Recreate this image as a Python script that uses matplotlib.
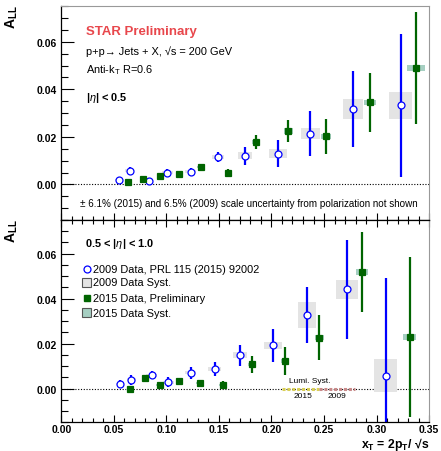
import matplotlib
matplotlib.use("Agg")
import matplotlib.pyplot as plt
from matplotlib.patches import Rectangle
from matplotlib.ticker import MultipleLocator
import numpy as np

plt.rcParams['font.family'] = ['Liberation Sans', 'DejaVu Sans']
plt.rcParams['mathtext.fontset'] = 'custom'
plt.rcParams['mathtext.rm'] = 'Liberation Sans'
plt.rcParams['mathtext.it'] = 'Liberation Sans:italic'
plt.rcParams['mathtext.bf'] = 'Liberation Sans:bold'

# -------------------------
# data: |eta| < 0.5
# -------------------------
x09_top = [0.055, 0.065, 0.083, 0.101, 0.123, 0.149, 0.175, 0.206, 0.237, 0.278, 0.323]
a09_top = [0.0018, 0.0057, 0.0015, 0.0050, 0.0053, 0.0116, 0.0120, 0.0129, 0.0213, 0.0319, 0.0333]
e09_top = [0.0012, 0.0015, 0.0012, 0.0013, 0.0018, 0.0020, 0.0037, 0.0057, 0.0094, 0.0160, 0.0300]
s09_top = [0.0005, 0.0006, 0.0005, 0.0006, 0.0007, 0.0009, 0.0015, 0.0018, 0.0023, 0.0042, 0.0056]
w09_top = [0.004, 0.004, 0.0045, 0.005, 0.0055, 0.006, 0.0067, 0.0086, 0.009, 0.0095, 0.011]

x15_top = [0.0636, 0.078, 0.094, 0.112, 0.133, 0.159, 0.185, 0.216, 0.252, 0.2935, 0.3376]
a15_top = [0.0008, 0.0024, 0.0035, 0.0042, 0.0074, 0.0050, 0.0180, 0.0224, 0.0202, 0.0345, 0.0490]
e15_top = [0.0008, 0.0008, 0.0009, 0.0010, 0.0013, 0.0015, 0.0030, 0.0045, 0.0074, 0.0125, 0.0234]
s15_top = [0.0004, 0.0004, 0.0004, 0.0005, 0.0005, 0.0006, 0.0008, 0.0013, 0.0009, 0.0012, 0.0014]
w15_top = [0.003, 0.003, 0.003, 0.003, 0.0035, 0.0035, 0.004, 0.0041, 0.0048, 0.0056, 0.0086]

# -------------------------
# data: 0.5 < |eta| < 1.0
# -------------------------
x09_bot = [0.056, 0.0668, 0.0859, 0.102, 0.123, 0.146, 0.1697, 0.2017, 0.2338, 0.272, 0.3087]
a09_bot = [0.0019, 0.0040, 0.0059, 0.0028, 0.0070, 0.0087, 0.0148, 0.0193, 0.0327, 0.0441, 0.0058]
e09_bot = [0.0018, 0.0022, 0.0018, 0.0022, 0.0026, 0.0033, 0.0048, 0.0074, 0.0124, 0.0222, 0.0434]
s09_bot = [0.0004, 0.0005, 0.0006, 0.0006, 0.0006, 0.0008, 0.0013, 0.0016, 0.0058, 0.0044, 0.0073]
w09_bot = [0.004, 0.0045, 0.005, 0.005, 0.0055, 0.006, 0.0067, 0.0086, 0.009, 0.0105, 0.011]

x15_bot = [0.065, 0.0795, 0.0935, 0.112, 0.132, 0.154, 0.1817, 0.2131, 0.2455, 0.2859, 0.3316]
a15_bot = [-0.0004, 0.0049, 0.0015, 0.0034, 0.0024, 0.0015, 0.0108, 0.0123, 0.0227, 0.0519, 0.0231]
e15_bot = [0.0015, 0.0012, 0.0012, 0.0013, 0.0016, 0.0018, 0.0039, 0.0061, 0.0099, 0.0178, 0.0356]
s15_bot = [0.0004, 0.0004, 0.0004, 0.0004, 0.0005, 0.0005, 0.0008, 0.0009, 0.0011, 0.0012, 0.0013]
w15_bot = [0.003, 0.003, 0.003, 0.003, 0.0035, 0.0035, 0.004, 0.004, 0.0043, 0.0057, 0.0062]

lumi_2015 = (0.2097, 0.245)
lumi_2009 = (0.245, 0.2795)

BLUE = '#0000ff'
GREEN = '#006400'
GRAY_BOX = '#e4e4e4'
TEAL_BOX = '#a6cfc2'


def draw_set(ax, x, a, e, s, w, color, box_color, marker, mfc, ms):
    for xi, ai, si, wi in zip(x, a, s, w):
        ax.add_patch(Rectangle((xi - wi, ai - si), 2 * wi, 2 * si,
                               facecolor=box_color, edgecolor='none', zorder=1))
    ax.errorbar(x, a, yerr=e, fmt='none', ecolor=color, elinewidth=1.6,
                capsize=0, zorder=2)
    ax.plot(x, a, linestyle='none', marker=marker, ms=ms, mfc=mfc,
            mec=color, mew=0.9, zorder=3)


def style_axis(ax, bottom_labels):
    ax.set_xlim(0, 0.35)
    ax.set_ylim(-0.015, 0.075)
    ax.xaxis.set_major_locator(MultipleLocator(0.05))
    ax.xaxis.set_minor_locator(MultipleLocator(0.01))
    ax.yaxis.set_major_locator(MultipleLocator(0.02))
    ax.yaxis.set_minor_locator(MultipleLocator(0.005))
    ax.tick_params(axis='y', which='major', direction='in', length=9, width=0.8, right=False)
    ax.tick_params(axis='y', which='minor', direction='in', length=5, width=0.8, right=False)
    ax.tick_params(axis='x', which='major', direction='in', length=5, width=0.8, pad=1.5)
    ax.tick_params(axis='x', which='minor', direction='in', length=3, width=0.8)
    ax.tick_params(labelsize=7.5)
    ax.set_yticks([0.0, 0.02, 0.04, 0.06])
    ax.set_yticklabels(['0.00', '0.02', '0.04', '0.06'], fontweight='bold')
    if bottom_labels:
        ax.set_xticks(np.arange(0, 0.351, 0.05))
        ax.set_xticklabels(['%.2f' % v for v in np.arange(0, 0.351, 0.05)], fontweight='bold')
    else:
        ax.set_xticklabels([])
    ax.spines['right'].set_color('#999999')
    ax.spines['left'].set_linewidth(0.9)
    ax.spines['bottom'].set_linewidth(0.9)
    ax.axhline(0, color='black', linestyle=(0, (1, 1.5)), linewidth=0.8, zorder=0.5)


fig = plt.figure(figsize=(4.41, 4.52), dpi=100)
ax1 = fig.add_axes([0.139, 0.511, 0.834, 0.473])
ax2 = fig.add_axes([0.139, 0.0635, 0.834, 0.4476])

# top panel
draw_set(ax1, x09_top, a09_top, e09_top, s09_top, w09_top, BLUE, GRAY_BOX, 'o', 'white', 5)
draw_set(ax1, x15_top, a15_top, e15_top, s15_top, w15_top, GREEN, TEAL_BOX, 's', GREEN, 4.5)
style_axis(ax1, False)
ax1.spines['top'].set_color('#999999')
ax1.tick_params(axis='x', which='both', top=False, bottom=True)

ax1.text(0.067, 0.883, 'STAR Preliminary', transform=ax1.transAxes, color='#e8474c',
         fontsize=9.5, fontweight='bold', va='center')
ax1.text(0.067, 0.792, 'p+p\u2192 Jets + X, \u221as = 200 GeV', transform=ax1.transAxes,
         fontsize=7.9, va='center')
ax1.text(0.067, 0.707, r'Anti-k$_\mathregular{T}$ R=0.6', transform=ax1.transAxes,
         fontsize=7.9, va='center')
ax1.text(0.067, 0.577, r'|$\eta$| < 0.5', transform=ax1.transAxes,
         fontsize=7.9, fontweight='bold', va='center')
ax1.text(0.050, 0.080, '\u00b1 6.1% (2015) and 6.5% (2009) scale uncertainty from polarization not shown',
         transform=ax1.transAxes, fontsize=7.1, va='center')

# bottom panel
draw_set(ax2, x09_bot, a09_bot, e09_bot, s09_bot, w09_bot, BLUE, GRAY_BOX, 'o', 'white', 5)
draw_set(ax2, x15_bot, a15_bot, e15_bot, s15_bot, w15_bot, GREEN, TEAL_BOX, 's', GREEN, 4.5)
style_axis(ax2, True)
ax2.tick_params(axis='x', which='both', top=True, bottom=True)
ax2.spines['top'].set_linewidth(0.9)

# luminosity systematic bands
ax2.hlines(0, lumi_2015[0], lumi_2015[1], colors='#d9cf55', linewidth=2.2,
           linestyles=(0, (1, 0.6)), zorder=1.5)
ax2.hlines(0, lumi_2009[0], lumi_2009[1], colors='#c98a8a', linewidth=2.2,
           linestyles=(0, (1, 0.6)), zorder=1.5)
ax2.text(0.2367, 0.0036, 'Lumi. Syst.', fontsize=6, ha='center', va='center')
ax2.text(0.230, -0.003, '2015', fontsize=6, ha='center', va='center')
ax2.text(0.2624, -0.003, '2009', fontsize=6, ha='center', va='center')

ax2.text(0.064, 0.886, r'0.5 < |$\eta$| < 1.0', transform=ax2.transAxes,
         fontsize=7.9, fontweight='bold', va='center')

# legend drawn by hand
leg_y = [0.760, 0.691, 0.613, 0.542]
leg_labels = ['2009 Data, PRL 115 (2015) 92002', '2009 Data Syst.',
              '2015 Data, Preliminary', '2015 Data Syst.']
mx, tx = 0.0694, 0.086
ax2.plot([mx], [leg_y[0]], transform=ax2.transAxes, marker='o', ms=5, mfc='white',
         mec=BLUE, mew=0.9, linestyle='none', clip_on=False)
ax2.add_patch(Rectangle((mx - 0.012, leg_y[1] - 0.022), 0.024, 0.044, transform=ax2.transAxes,
                        facecolor=GRAY_BOX, edgecolor='#555555', linewidth=0.8, clip_on=False))
ax2.plot([mx], [leg_y[2]], transform=ax2.transAxes, marker='s', ms=4.5, mfc=GREEN,
         mec=GREEN, linestyle='none', clip_on=False)
ax2.add_patch(Rectangle((mx - 0.012, leg_y[3] - 0.022), 0.024, 0.044, transform=ax2.transAxes,
                        facecolor=TEAL_BOX, edgecolor='#555555', linewidth=0.8, clip_on=False))
for yy, lab in zip(leg_y, leg_labels):
    ax2.text(tx, yy, lab, transform=ax2.transAxes, fontsize=7.9, va='center')

# axis titles
fig.text(12 / 441, 1 - 5 / 452, r'$\mathbf{A_{LL}}$', rotation=90, ha='center', va='top',
         fontsize=10)
fig.text(12 / 441, 1 - 219 / 452, r'$\mathbf{A_{LL}}$', rotation=90, ha='center', va='top',
         fontsize=10)
fig.text(429 / 441, 1 - 448 / 452, 'x$_\\mathregular{T}$ = 2p$_\\mathregular{T}$/ \u221as',
         ha='right', va='baseline', fontsize=8.8, fontweight='bold')

fig.savefig('out.png', dpi=100)
